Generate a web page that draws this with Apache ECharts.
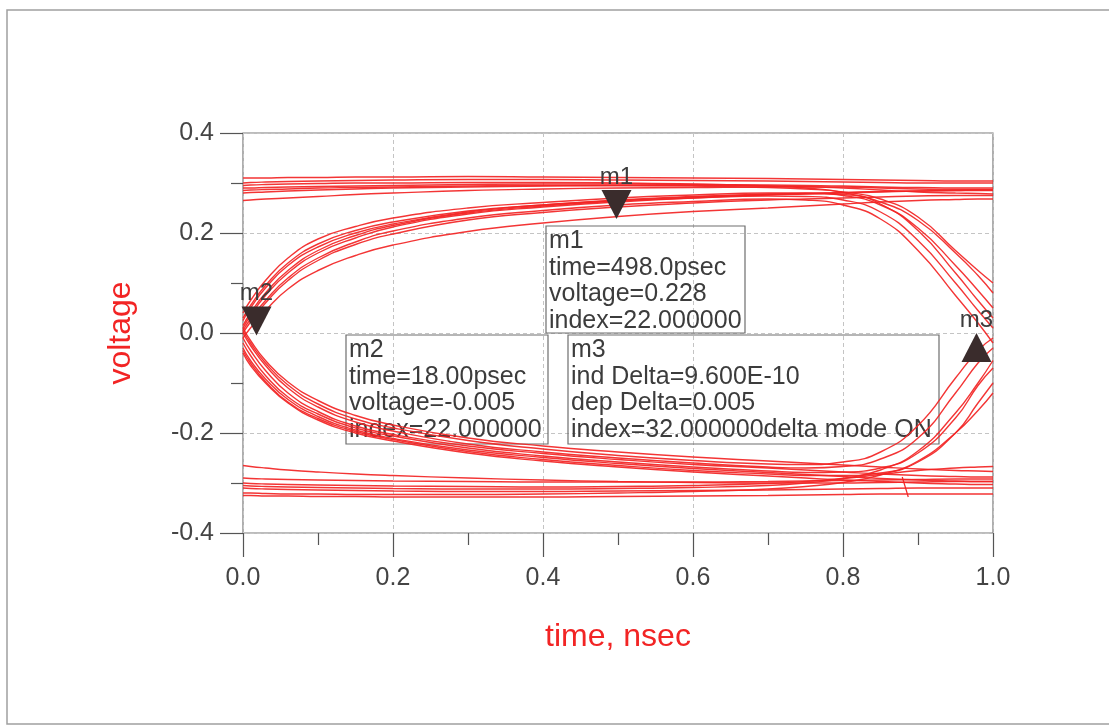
<!DOCTYPE html>
<html>
<head>
<meta charset="utf-8">
<script src="https://cdn.jsdelivr.net/npm/echarts@6/dist/echarts.min.js"></script>
<style>
html,body{margin:0;padding:0;background:#fff;}
#chart{width:1109px;height:727px;}
</style>
</head>
<body>
<div id="chart"></div>
<script>
// ---- data ----
const timeNs = [0, 0.01, 0.03, 0.06, 0.1, 0.15, 0.2, 0.3, 0.4, 0.5, 0.6, 0.7, 0.75, 0.8, 0.85, 0.9, 0.95, 0.98, 1.0];

// rising from crossing, staying high
const rise1 = [0.01, 0.035, 0.075, 0.12, 0.16, 0.19, 0.212, 0.238, 0.252, 0.262, 0.27, 0.276, 0.278, 0.28, 0.282, 0.284, 0.285, 0.286, 0.286];
const rise2 = [0.03, 0.055, 0.095, 0.14, 0.178, 0.205, 0.222, 0.244, 0.256, 0.265, 0.272, 0.277, 0.279, 0.281, 0.283, 0.284, 0.285, 0.285, 0.285];
const rise3 = [0.0, 0.022, 0.06, 0.105, 0.145, 0.177, 0.198, 0.226, 0.241, 0.252, 0.26, 0.266, 0.268, 0.27, 0.272, 0.274, 0.275, 0.275, 0.275];
const rise4 = [-0.01, 0.01, 0.045, 0.088, 0.125, 0.155, 0.176, 0.203, 0.22, 0.233, 0.243, 0.25, 0.254, 0.258, 0.262, 0.265, 0.267, 0.268, 0.268];
// rising from crossing, falling again at end
const rise5 = [0.015, 0.04, 0.08, 0.125, 0.165, 0.195, 0.215, 0.24, 0.254, 0.264, 0.27, 0.274, 0.273, 0.266, 0.242, 0.185, 0.1, 0.045, 0.01];
const rise6 = [0.04, 0.065, 0.105, 0.15, 0.188, 0.213, 0.23, 0.25, 0.261, 0.27, 0.276, 0.28, 0.28, 0.275, 0.256, 0.21, 0.135, 0.085, 0.05];
const rise7 = [0.005, 0.028, 0.065, 0.11, 0.15, 0.182, 0.204, 0.23, 0.245, 0.256, 0.263, 0.268, 0.266, 0.256, 0.228, 0.165, 0.075, 0.02, -0.02];
const rise8 = [0.025, 0.05, 0.09, 0.135, 0.172, 0.2, 0.218, 0.242, 0.256, 0.266, 0.273, 0.278, 0.279, 0.277, 0.262, 0.225, 0.16, 0.115, 0.08];

// high level band
const high1 = [0.29, 0.29, 0.291, 0.292, 0.293, 0.294, 0.295, 0.297, 0.298, 0.298, 0.297, 0.296, 0.295, 0.294, 0.292, 0.291, 0.29, 0.29, 0.29];
const high2 = [0.3, 0.301, 0.302, 0.303, 0.304, 0.305, 0.306, 0.307, 0.307, 0.306, 0.305, 0.304, 0.303, 0.302, 0.301, 0.3, 0.3, 0.3, 0.3];
const high3 = [0.265, 0.266, 0.268, 0.27, 0.273, 0.277, 0.28, 0.285, 0.288, 0.29, 0.291, 0.292, 0.292, 0.292, 0.29, 0.288, 0.287, 0.287, 0.287];
const high4 = [0.28, 0.281, 0.282, 0.284, 0.286, 0.288, 0.29, 0.292, 0.294, 0.295, 0.295, 0.294, 0.293, 0.29, 0.286, 0.282, 0.28, 0.279, 0.278];
const high5 = [0.31, 0.31, 0.31, 0.311, 0.311, 0.312, 0.312, 0.313, 0.312, 0.311, 0.31, 0.309, 0.308, 0.307, 0.306, 0.305, 0.304, 0.304, 0.304];
const high6 = [0.295, 0.296, 0.297, 0.298, 0.299, 0.3, 0.3, 0.301, 0.301, 0.3, 0.298, 0.294, 0.29, 0.281, 0.258, 0.205, 0.12, 0.065, 0.03];
const high7 = [0.285, 0.286, 0.287, 0.288, 0.29, 0.291, 0.292, 0.294, 0.295, 0.295, 0.294, 0.291, 0.288, 0.282, 0.268, 0.232, 0.165, 0.125, 0.1];

// falling from crossing, staying low
const fall1 = [-0.01, -0.035, -0.075, -0.12, -0.157, -0.186, -0.203, -0.226, -0.241, -0.253, -0.263, -0.27, -0.274, -0.278, -0.282, -0.285, -0.287, -0.288, -0.288];
const fall2 = [0.01, -0.015, -0.055, -0.098, -0.135, -0.165, -0.184, -0.21, -0.226, -0.238, -0.248, -0.256, -0.26, -0.264, -0.268, -0.272, -0.275, -0.276, -0.277];
const fall3 = [-0.03, -0.055, -0.092, -0.133, -0.167, -0.194, -0.211, -0.234, -0.249, -0.261, -0.271, -0.279, -0.283, -0.287, -0.291, -0.294, -0.296, -0.297, -0.297];
const fall4 = [-0.04, -0.065, -0.1, -0.14, -0.174, -0.2, -0.216, -0.24, -0.256, -0.268, -0.278, -0.286, -0.29, -0.294, -0.297, -0.3, -0.302, -0.303, -0.303];
// falling from crossing, rising again at end
const fall5 = [0.0, -0.025, -0.065, -0.11, -0.148, -0.178, -0.196, -0.222, -0.238, -0.25, -0.26, -0.268, -0.27, -0.267, -0.252, -0.21, -0.12, -0.06, -0.03];
const fall6 = [-0.02, -0.045, -0.085, -0.128, -0.162, -0.19, -0.206, -0.23, -0.246, -0.258, -0.268, -0.276, -0.279, -0.278, -0.27, -0.24, -0.17, -0.105, -0.07];
const fall7 = [0.005, -0.02, -0.06, -0.104, -0.142, -0.172, -0.19, -0.215, -0.232, -0.245, -0.255, -0.262, -0.263, -0.258, -0.238, -0.185, -0.09, -0.035, -0.01];
const fall8 = [-0.035, -0.06, -0.097, -0.138, -0.171, -0.197, -0.213, -0.237, -0.253, -0.265, -0.275, -0.282, -0.285, -0.285, -0.28, -0.258, -0.2, -0.14, -0.1];

// low level band
const low1 = [-0.29, -0.291, -0.292, -0.293, -0.294, -0.295, -0.296, -0.297, -0.298, -0.298, -0.298, -0.297, -0.296, -0.295, -0.294, -0.293, -0.292, -0.292, -0.292];
const low2 = [-0.31, -0.311, -0.312, -0.313, -0.314, -0.315, -0.316, -0.317, -0.317, -0.316, -0.315, -0.314, -0.313, -0.312, -0.311, -0.31, -0.31, -0.31, -0.31];
const low3 = [-0.265, -0.267, -0.27, -0.274, -0.278, -0.282, -0.285, -0.29, -0.294, -0.297, -0.299, -0.3, -0.3, -0.3, -0.299, -0.298, -0.297, -0.297, -0.297];
const low4 = [-0.325, -0.325, -0.326, -0.326, -0.327, -0.327, -0.328, -0.328, -0.328, -0.327, -0.326, -0.325, -0.324, -0.323, -0.322, -0.322, -0.322, -0.322, -0.322];
const low5 = [-0.3, -0.301, -0.302, -0.303, -0.304, -0.305, -0.306, -0.307, -0.308, -0.307, -0.305, -0.301, -0.297, -0.291, -0.283, -0.275, -0.27, -0.268, -0.267];
const low6 = [-0.305, -0.306, -0.307, -0.308, -0.309, -0.31, -0.311, -0.312, -0.312, -0.311, -0.309, -0.305, -0.3, -0.291, -0.274, -0.236, -0.16, -0.1, -0.055];
const low7 = [-0.32, -0.32, -0.321, -0.322, -0.322, -0.323, -0.323, -0.323, -0.322, -0.32, -0.317, -0.312, -0.307, -0.299, -0.284, -0.256, -0.2, -0.155, -0.12];

// short retrace segment
const retraceTime = [0.879, 0.887];
const retraceVolt = [-0.288, -0.328];

// markers
const markerNames = ['m1', 'm2', 'm3'];
const markerTime = [0.498, 0.018, 0.978];
const markerVolt = [0.228, -0.005, 0.0];
const markerPointsDown = [true, true, false];

// marker readouts
const m1Lines = ['m1', 'time=498.0psec', 'voltage=0.228', 'index=22.000000'];
const m2Lines = ['m2', 'time=18.00psec', 'voltage=-0.005', 'index=22.000000'];
const m3Lines = ['m3', 'ind Delta=9.600E-10', 'dep Delta=0.005', 'index=32.000000delta mode ON'];

const xTicks = { min: 0, max: 1, step: 0.2 };
const yTicks = { min: -0.4, max: 0.4, step: 0.2 };

// ---- chart ----
const FONT = "'Liberation Sans', Arial, Helvetica, sans-serif";
const RED = '#f22424';
const TXT = '#3c3c3c';
const traces = [rise1, rise2, rise3, rise4, rise5, rise6, rise7, rise8,
  high1, high2, high3, high4, high5, high6, high7,
  fall1, fall2, fall3, fall4, fall5, fall6, fall7, fall8,
  low1, low2, low3, low4, low5, low6, low7];

const fmt = v => (Math.abs(v) < 1e-9 ? 0 : v).toFixed(1);

const series = traces.map((vals, i) => ({
  type: 'line',
  name: 'trace' + i,
  data: timeNs.map((t, k) => [t, vals[k]]),
  showSymbol: false,
  smooth: 0.5,
  silent: true,
  lineStyle: { color: RED, width: 1.4, opacity: 0.92 },
  z: 3
}));
series.push({
  type: 'line',
  data: retraceTime.map((t, k) => [t, retraceVolt[k]]),
  showSymbol: false,
  silent: true,
  lineStyle: { color: RED, width: 1.2 },
  z: 3
});
markerNames.forEach((nm, i) => {
  series.push({
    type: 'scatter',
    data: [[markerTime[i], markerVolt[i]]],
    symbol: 'triangle',
    symbolSize: [30, 29],
    symbolRotate: markerPointsDown[i] ? 180 : 0,
    symbolOffset: [0, markerPointsDown[i] ? -14.5 : 14.5],
    itemStyle: { color: '#3a2c2c', opacity: 1 },
    silent: true,
    z: 6,
    label: {
      show: true,
      formatter: nm,
      position: [15, -25],
      align: 'center',
      fontFamily: FONT,
      fontSize: 24,
      color: TXT
    }
  });
});

function box(x, y, w, h, lines) {
  return {
    type: 'group',
    z: 1,
    children: [
      { type: 'rect', shape: { x: x, y: y, width: w, height: h },
        style: { fill: 'rgba(0,0,0,0)', stroke: '#6e6e6e', lineWidth: 1.2 }, z: 1 },
      { type: 'text', x: x + 3, y: y + 2, z: 1,
        style: { text: lines.join('\n'), fontFamily: FONT, fontSize: 25, lineHeight: 26.5, fill: TXT } }
    ]
  };
}

const chart = echarts.init(document.getElementById('chart'), null, { renderer: 'canvas' });
chart.setOption({
  animation: false,
  backgroundColor: '#ffffff',
  grid: { left: 243, top: 133, width: 750, height: 400, show: true,
    borderColor: '#7a7a7a', borderWidth: 1.2, backgroundColor: 'transparent' },
  xAxis: {
    type: 'value', min: xTicks.min, max: xTicks.max, interval: xTicks.step,
    name: 'time, nsec', nameLocation: 'middle', nameGap: 88,
    nameTextStyle: { color: RED, fontSize: 32, fontFamily: FONT },
    axisLine: { show: false, onZero: false },
    axisTick: { show: true, length: 24, lineStyle: { color: '#555', width: 1.2 } },
    minorTick: { show: true, splitNumber: 2, length: 12, lineStyle: { color: '#555', width: 1.2 } },
    splitLine: { show: true, lineStyle: { color: '#c4c4c4', type: [4, 3], width: 1 } },
    axisLabel: { formatter: fmt, margin: 33, fontSize: 25, color: '#444', fontFamily: FONT }
  },
  yAxis: {
    type: 'value', min: yTicks.min, max: yTicks.max, interval: yTicks.step,
    name: 'voltage', nameLocation: 'middle', nameGap: 106,
    nameTextStyle: { color: RED, fontSize: 32, fontFamily: FONT },
    axisLine: { show: false, onZero: false },
    axisTick: { show: true, length: 23, lineStyle: { color: '#555', width: 1.2 } },
    minorTick: { show: true, splitNumber: 2, length: 12, lineStyle: { color: '#555', width: 1.2 } },
    splitLine: { show: true, lineStyle: { color: '#c4c4c4', type: [4, 3], width: 1 } },
    axisLabel: { formatter: fmt, margin: 29, fontSize: 25, color: '#444', fontFamily: FONT }
  },
  series: series,
  graphic: [
    { type: 'rect', z: 0, shape: { x: 7, y: 10, width: 1130, height: 714 },
      style: { fill: 'rgba(0,0,0,0)', stroke: '#a0a0a0', lineWidth: 1.5 } },
    box(546, 226, 199, 107, m1Lines),
    box(346, 335, 202, 109, m2Lines),
    box(568, 335, 371, 109, m3Lines)
  ]
});
</script>
</body>
</html>
